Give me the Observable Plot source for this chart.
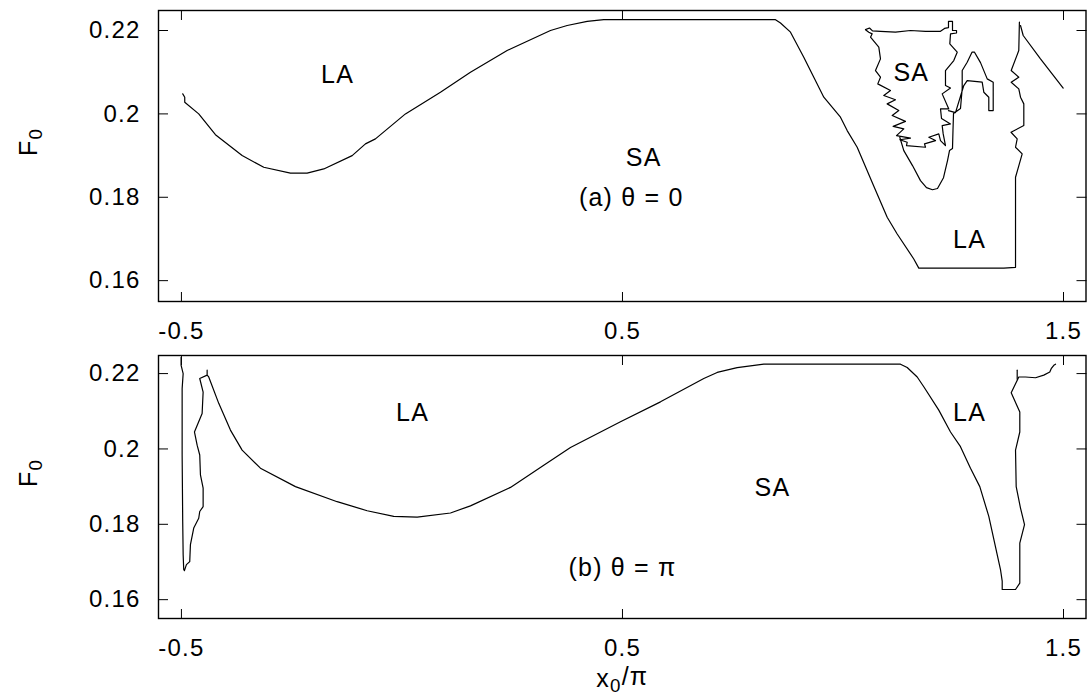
<!DOCTYPE html>
<html>
<head>
<meta charset="utf-8">
<script src="https://cdn.jsdelivr.net/npm/d3@7"></script>
<script src="https://cdn.jsdelivr.net/npm/@observablehq/plot@0.6"></script>
<style>
  body { margin: 0; background: #fff; }
  #chart { width: 1089px; }
  #chart svg { display: block; }
</style>
</head>
<body>
<div id="chart"></div>
<script>
// Axis ticks and extents shared by both panels
const xTicks = [-0.5, 0.5, 1.5];
const yTicks = [0.16, 0.18, 0.2, 0.22];
const xDomain = [-0.552, 1.551];
const yDomain = [0.155, 0.2248];

// (a) theta = 0 : LA/SA boundary lines, [x0/pi, F0]
const aMain = [
  [-0.497, 0.2048], [-0.4925, 0.2040], [-0.4925, 0.2028], [-0.4608, 0.2000], [-0.4229, 0.1950],
  [-0.3624, 0.1900], [-0.3134, 0.1872], [-0.2528, 0.1858], [-0.215, 0.1858], [-0.1773, 0.1868],
  [-0.1129, 0.1900], [-0.0828, 0.1928], [-0.0601, 0.1940], [0.0079, 0.2000], [0.0873, 0.2052],
  [0.1553, 0.2100], [0.2385, 0.2152], [0.3367, 0.2200], [0.3746, 0.2212], [0.420, 0.2222],
  [0.4576, 0.2226], [0.847, 0.2226], [0.8583, 0.2218], [0.881, 0.2196], [0.9111, 0.2136],
  [0.9565, 0.2040], [0.9943, 0.1992], [1.0095, 0.1960], [1.0322, 0.1920], [1.0692, 0.1828],
  [1.1002, 0.1752], [1.1229, 0.1712], [1.1605, 0.1652], [1.1719, 0.1630], [1.3646, 0.1630],
  [1.3912, 0.1632], [1.3912, 0.1848], [1.4063, 0.1904], [1.3912, 0.1920], [1.395, 0.1940],
  [1.381, 0.1956], [1.41, 0.1972], [1.41, 0.2024], [1.4025, 0.2040], [1.3986, 0.2060],
  [1.3814, 0.2076], [1.3986, 0.2088], [1.3814, 0.2104], [1.3986, 0.2152], [1.40, 0.2220]
];
const aEdge = [[1.4025, 0.2212], [1.4086, 0.2188], [1.4478, 0.2132], [1.4993, 0.2062]];
const aIsland = [
  [1.0510, 0.2202], [1.0585, 0.2196], [1.0662, 0.2192], [1.0624, 0.2184], [1.0812, 0.2160],
  [1.0850, 0.2132], [1.0737, 0.2104], [1.0850, 0.2088], [1.0789, 0.2072], [1.1077, 0.2056],
  [1.0925, 0.2044], [1.1190, 0.2034], [1.1002, 0.2024], [1.1265, 0.2008], [1.1116, 0.1996],
  [1.1417, 0.1982], [1.1138, 0.1970], [1.1379, 0.1964], [1.1213, 0.1948], [1.1531, 0.1942],
  [1.1288, 0.1938], [1.1456, 0.1932], [1.1440, 0.1924], [1.1871, 0.1920], [1.1848, 0.1928],
  [1.2098, 0.1936], [1.1946, 0.1944], [1.2172, 0.1952], [1.2211, 0.1936], [1.2324, 0.1924],
  [1.2272, 0.1952], [1.2249, 0.1972], [1.2438, 0.1976], [1.2234, 0.1989], [1.2211, 0.2012],
  [1.2399, 0.2012], [1.2249, 0.2048], [1.2438, 0.2062], [1.2324, 0.2068], [1.2324, 0.2104],
  [1.2512, 0.2128], [1.2590, 0.2148], [1.2422, 0.2168], [1.2438, 0.2192], [1.2574, 0.2194],
  [1.2574, 0.2200], [1.2483, 0.2200], [1.2483, 0.2222], [1.2392, 0.2222], [1.2392, 0.2207],
  [1.2302, 0.2205], [1.2211, 0.2198], [1.1871, 0.2198], [1.1531, 0.2200], [1.1190, 0.2196],
  [1.0850, 0.2198], [1.0669, 0.2199], [1.0601, 0.2206], [1.0510, 0.2202]
];
const aBowl = [
  [1.1288, 0.1944], [1.1379, 0.1912], [1.1576, 0.1876], [1.1757, 0.1840], [1.1893, 0.1823],
  [1.2029, 0.1818], [1.2143, 0.1821], [1.2279, 0.1847], [1.2370, 0.1888], [1.2415, 0.1912],
  [1.2483, 0.1917], [1.2494, 0.1960], [1.2506, 0.2001], [1.2664, 0.2013], [1.2703, 0.2061],
  [1.2703, 0.2104], [1.2816, 0.2124], [1.2925, 0.2148], [1.2982, 0.2148], [1.3118, 0.2123],
  [1.3270, 0.2084], [1.3406, 0.2076], [1.3406, 0.2008], [1.3306, 0.2008], [1.3306, 0.2040],
  [1.3193, 0.2052], [1.3156, 0.2076], [1.2816, 0.2080], [1.2739, 0.2068], [1.2551, 0.2003],
  [1.2392, 0.2008]
];
const aLabels = [
  {x: -0.146, y: 0.2094, text: "LA"},
  {x: 0.548, y: 0.1895, text: "SA"},
  {x: 0.520, y: 0.1799, text: "(a) θ = 0"},
  {x: 1.155, y: 0.2097, text: "SA"},
  {x: 1.287, y: 0.1698, text: "LA"}
];

// (b) theta = pi
const bMain = [
  [-0.5007, 0.2243], [-0.5007, 0.2222], [-0.4961, 0.2200], [-0.4984, 0.2160], [-0.4984, 0.1984],
  [-0.4971, 0.1807], [-0.4961, 0.1719], [-0.4948, 0.1680], [-0.4932, 0.1677], [-0.4887, 0.1693],
  [-0.4812, 0.1701], [-0.4796, 0.1746], [-0.4721, 0.1790], [-0.4608, 0.1816], [-0.4585, 0.1834],
  [-0.4508, 0.1847], [-0.4508, 0.1896], [-0.4569, 0.1931], [-0.4585, 0.1984], [-0.4644, 0.2010],
  [-0.4705, 0.2045], [-0.4531, 0.2094], [-0.4508, 0.2151], [-0.4585, 0.2187], [-0.4417, 0.2196],
  [-0.4417, 0.2209], [-0.4417, 0.2196], [-0.4381, 0.2191], [-0.4154, 0.2121], [-0.3889, 0.2050],
  [-0.3624, 0.1997], [-0.3209, 0.1949], [-0.2415, 0.1900], [-0.1469, 0.1860], [-0.0789, 0.1836],
  [-0.0186, 0.1821], [0.0345, 0.1819], [0.110, 0.1830], [0.1553, 0.1849], [0.246, 0.1898],
  [0.3215, 0.1957], [0.3821, 0.2004], [0.4955, 0.2072], [0.5862, 0.2125], [0.6844, 0.2187],
  [0.7147, 0.2203], [0.7601, 0.2216], [0.8204, 0.2225], [1.1304, 0.2225], [1.1456, 0.2216],
  [1.1683, 0.2191], [1.1832, 0.2165], [1.2172, 0.2103], [1.2438, 0.2045], [1.2664, 0.2006],
  [1.2891, 0.1949], [1.3102, 0.1900], [1.3306, 0.1821], [1.3571, 0.1680], [1.3610, 0.1649],
  [1.3610, 0.1627], [1.3912, 0.1627], [1.4009, 0.1644], [1.4009, 0.1750], [1.4116, 0.1799],
  [1.4025, 0.1843], [1.3927, 0.1900], [1.3912, 0.1997], [1.4009, 0.2045], [1.4009, 0.2098],
  [1.3814, 0.2149], [1.3986, 0.2191], [1.4138, 0.2191], [1.4365, 0.2189], [1.4553, 0.2196],
  [1.4689, 0.2204], [1.4721, 0.2213], [1.4780, 0.2222], [1.4819, 0.2225]
];
const bSpur = [[1.395, 0.2209], [1.395, 0.2185]];
const bLabels = [
  {x: 0.024, y: 0.2095, text: "LA"},
  {x: 0.840, y: 0.1896, text: "SA"},
  {x: 0.500, y: 0.1685, text: "(b) θ = π"},
  {x: 1.287, y: 0.2095, text: "LA"}
];

const fmtX = d => String(d);
const fmtY = d => String(+d.toFixed(2));
const FONT = "'Liberation Sans', Arial, Helvetica, sans-serif";

function panel({height, marginTop, marginBottom, lines, labels, xLabel}) {
  const marks = [
    Plot.axisY(yTicks, {anchor: "left", tickSize: -10, tickPadding: 28, tickFormat: fmtY, label: null}),
    Plot.axisY(yTicks, {anchor: "right", tickSize: -10, tickFormat: () => "", label: null}),
    Plot.axisX(xTicks, {anchor: "top", tickSize: -9, tickFormat: () => "", label: null}),
    Plot.axisX(xTicks, {anchor: "bottom", tickSize: -9, tickPadding: 29, tickFormat: fmtX, label: null}),
    ...lines.map(l => Plot.line(l, {x: d => d[0], y: d => d[1], stroke: "#000", strokeWidth: 1.2})),
    Plot.text(labels, {x: "x", y: "y", text: "text", fontSize: 25, fill: "#000"}),
    Plot.text(["F0"], {text: d => d, frameAnchor: "left", dx: -130, rotate: -90, fontSize: 25, fill: "#000"}),
    Plot.frame({stroke: "#000", strokeWidth: 1.4})
  ];
  if (xLabel) {
    marks.push(Plot.text([xLabel], {text: d => d, frameAnchor: "bottom", dy: 68, fontSize: 25, fill: "#000"}));
  }
  return Plot.plot({
    width: 1089,
    height,
    marginLeft: 158,
    marginRight: 3.5,
    marginTop,
    marginBottom,
    x: {domain: xDomain},
    y: {domain: yDomain},
    style: {fontFamily: FONT, fontSize: "24px", color: "#000", background: "#fff", letterSpacing: "1.2px"},
    marks
  });
}

// Turn "F0" and "x0/pi" into text with a lowered subscript digit
function subscripts(svg) {
  d3.select(svg).selectAll("text").each(function () {
    const t = this.textContent;
    if (t === "F0" || t === "x0/π") {
      const sel = d3.select(this);
      this.textContent = "";
      sel.append("tspan").text(t[0]);
      sel.append("tspan").attr("dy", "0.3em").attr("font-size", "0.75em").text("0");
      if (t.length > 2) sel.append("tspan").attr("dy", "-0.3em").text(t.slice(2));
    }
  });
}

const panelA = panel({height: 345, marginTop: 10, marginBottom: 44, lines: [aMain, aEdge, aIsland, aBowl], labels: aLabels});
const panelB = panel({height: 355, marginTop: 10, marginBottom: 82, lines: [bMain, bSpur], labels: bLabels, xLabel: "x0/π"});
subscripts(panelA);
subscripts(panelB);
document.getElementById("chart").append(panelA, panelB);
</script>
</body>
</html>
